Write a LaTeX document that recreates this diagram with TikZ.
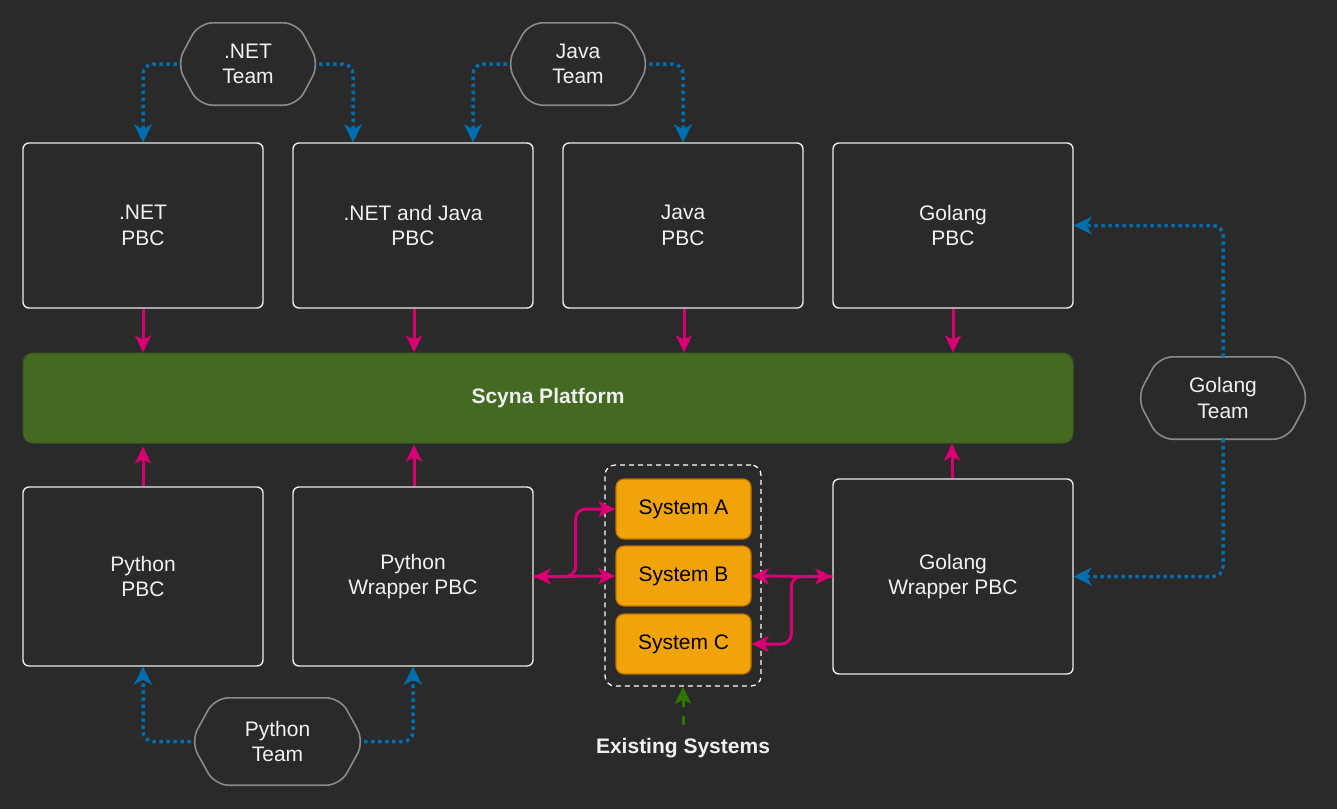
\documentclass[tikz,border=0pt]{standalone}
\usepackage{fontspec}
\setmainfont{Liberation Sans}
\usetikzlibrary{arrows.meta}
\definecolor{bg}{HTML}{2A2A2A}
\definecolor{txt}{HTML}{F0F0F0}
\definecolor{pinkc}{HTML}{D80073}
\definecolor{bluc}{HTML}{006EAF}
\definecolor{platf}{HTML}{446A22}
\definecolor{platd}{HTML}{3A5C1C}
\definecolor{grnarr}{HTML}{2D7600}
\definecolor{orng}{HTML}{F0A30A}
\definecolor{orngd}{HTML}{BD7000}
\definecolor{hexc}{HTML}{8A8A8A}
\newcommand\hexdraw[2]{\draw[hexline] (#1.west) -- ([xshift=#2]#1.north west) -- ([xshift=-#2]#1.north east) -- (#1.east) -- ([xshift=-#2]#1.south east) -- ([xshift=#2]#1.south west) -- cycle;}
\tikzset{
  lbl/.style={font=\fontsize{21}{25.5}\selectfont, text=txt, align=center},
  pbcbox/.style={lbl, draw=white!92!black, line width=1.4pt, rounded corners=6pt, fill=bg, minimum width=240pt, inner sep=0pt},
  sysbox/.style={font=\fontsize{21}{25}\selectfont, text=black, draw=orngd, line width=1.2pt, fill=orng, rounded corners=8pt, minimum width=135pt, minimum height=60pt, inner sep=0pt},
  teamnode/.style={lbl, inner sep=0pt},
  hexline/.style={draw=hexc, line width=1.6pt, rounded corners=14pt},
  tipk/.tip={Stealth[length=17pt,width=16pt,inset=4pt]},
  pk/.style={draw=pinkc, line width=3pt, -tipk},
  pkb/.style={draw=pinkc, line width=3pt, tipk-tipk},
  bl/.style={draw=bluc, line width=3.5pt, dash pattern=on 3.5pt off 3.5pt, rounded corners=10pt, -{Stealth[length=18pt,width=18pt,inset=5pt]}},
}
\begin{document}
\begin{tikzpicture}[x=1pt,y=-1pt]
\fill[bg] (0,0) rectangle (1337,809);
\useasboundingbox (0,0) rectangle (1337,809);

% top PBC boxes
\node[pbcbox, minimum height=165pt] (netpbc) at (143,225.5) {.NET\\PBC};
\node[pbcbox, minimum height=165pt] (njpbc) at (413,225.5) {.NET and Java\\PBC};
\node[pbcbox, minimum height=165pt] (javapbc) at (683,225.5) {Java\\PBC};
\node[pbcbox, minimum height=165pt] (gopbc) at (953,225.5) {Golang\\PBC};

% platform
\node[draw=platd, fill=platf, line width=1pt, rounded corners=10pt, minimum width=1050pt, minimum height=90pt, inner sep=0pt, font=\fontsize{21}{25}\selectfont\bfseries, text=txt] (scyna) at (548,398) {Scyna Platform};

% bottom boxes
\node[pbcbox, minimum height=179pt] (pypbc) at (143,576.5) {Python\\PBC};
\node[pbcbox, minimum height=179pt] (pywpbc) at (413,576.5) {Python\\Wrapper PBC};
\node[pbcbox, minimum height=195pt] (gowpbc) at (953,576.5) {Golang\\Wrapper PBC};

% existing systems
\node[draw=white, dash pattern=on 5pt off 4pt, line width=1.3pt, rounded corners=10pt, minimum width=156pt, minimum height=221pt, inner sep=0pt] (cont) at (683,575.5) {};
\node[sysbox] (sysA) at (683.5,509) {System A};
\node[sysbox] (sysB) at (683.5,576) {System B};
\node[sysbox] (sysC) at (683.5,644) {System C};
\node[font=\fontsize{21}{25}\selectfont\bfseries, text=txt, inner sep=0pt] (exist) at (683,748) {Existing Systems};

% teams
\node[teamnode, minimum width=142pt, minimum height=82pt] (netteam) at (248,64) {.NET\\Team};
\hexdraw{netteam}{22pt}
\node[teamnode, minimum width=142pt, minimum height=82pt] (javateam) at (578,64) {Java\\Team};
\hexdraw{javateam}{22pt}
\node[teamnode, minimum width=173pt, minimum height=87pt] (pyteam) at (277.5,741.5) {Python\\Team};
\hexdraw{pyteam}{24pt}
\node[teamnode, minimum width=172pt, minimum height=82pt] (goteam) at (1223,398) {Golang\\Team};
\hexdraw{goteam}{22pt}

% PBC -> platform
\draw[pk] (netpbc.south) -- (netpbc.south |- scyna.north);
\draw[pk] ([xshift=1pt]njpbc.south) -- ([xshift=1pt]njpbc.south |- scyna.north);
\draw[pk] ([xshift=1pt]javapbc.south) -- ([xshift=1pt]javapbc.south |- scyna.north);
\draw[pk] (gopbc.south) -- (gopbc.south |- scyna.north);
\draw[pk, shorten >=3pt] (pypbc.north) -- (pypbc.north |- scyna.south);
\draw[pk, shorten >=1pt] ([xshift=1pt]pywpbc.north) -- ([xshift=1pt]pywpbc.north |- scyna.south);
\draw[pk] ([xshift=-1pt]gowpbc.north) -- ([xshift=-1pt]gowpbc.north |- scyna.south);

% systems links
\draw[pkb] (pywpbc.east) -- (sysB.west);
\draw[pk, rounded corners=10pt] (pywpbc.east) -- ++(42,0) |- (sysA.west);
\draw[pkb] (sysB.east) -- (gowpbc.west);
\draw[pk, rounded corners=10pt] (gowpbc.west) -- ++(-41,0) |- (sysC.east);

% existing systems arrow
\draw[draw=grnarr, line width=3pt, dash pattern=on 9pt off 9pt, -tipk] ([yshift=13pt]exist.north) -- (cont.south);

% team links
\draw[bl] (netteam.west) -| (netpbc.north);
\draw[bl] (netteam.east) -| ([xshift=-60pt]njpbc.north);
\draw[bl] (javateam.west) -| ([xshift=60pt]njpbc.north);
\draw[bl] (javateam.east) -| (javapbc.north);
\draw[bl] (pyteam.west) -| (pypbc.south);
\draw[bl] (pyteam.east) -| (pywpbc.south);
\draw[bl] (goteam.north) |- (gopbc.east);
\draw[bl] (goteam.south) |- (gowpbc.east);
\end{tikzpicture}
\end{document}
